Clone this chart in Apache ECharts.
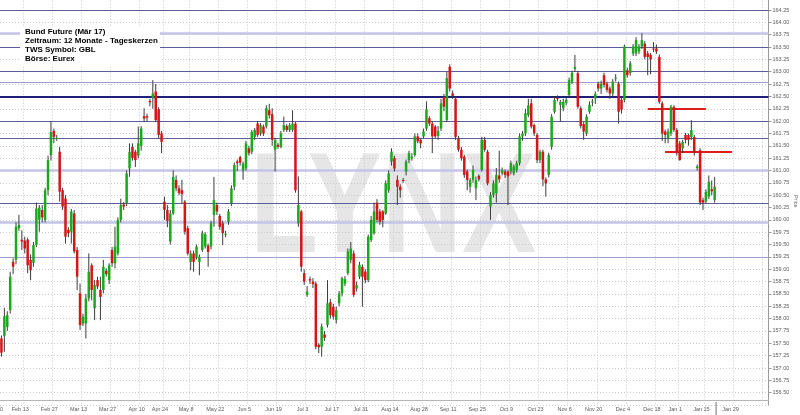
<!DOCTYPE html>
<html><head><meta charset="utf-8">
<script src="https://cdn.jsdelivr.net/npm/echarts@6/dist/echarts.min.js"></script>
<style>html,body{margin:0;padding:0;background:#fff}#c{width:800px;height:415px}</style>
</head><body><div id="c"></div>
<script>
// ---- categories (trading days) ----
const firstDay = '2017-02-01';
const lastDay = '2018-02-13';
const holidays = ['2017-04-14','2017-04-17','2017-05-01','2017-12-25','2017-12-26','2018-01-01'];

// ---- x tick dates and their labels ----
const tickDates = ['2017-02-13','2017-02-27','2017-03-13','2017-03-27','2017-04-10','2017-04-24','2017-05-08','2017-05-22','2017-06-05','2017-06-19','2017-07-03','2017-07-17','2017-07-31','2017-08-14','2017-08-28','2017-09-11','2017-09-25','2017-10-09','2017-10-23','2017-11-06','2017-11-20','2017-12-04','2017-12-18','2018-01-02','2018-01-15','2018-01-29','2018-02-12'];
const tickLabels = ['Feb 13','Feb 27','Mar 13','Mar 27','Apr 10','Apr 24','May 8','May 22','Jun 5','Jun 19','Jul 3','Jul 17','Jul 31','Aug 14','Aug 28','Sep 11','Sep 25','Oct 9','Oct 23','Nov 6','Nov 20','Dec 4','Dec 18','Jan 1','Jan 15','Jan 29',''];

// ---- y axis ----
const yMin = 156.25, yMax = 164.5, yStep = 0.25;

// ---- daily candles ----
const opens = [157.60,157.65,157.83,158.17,159.15,159.19,159.83,159.60,159.58,159.60,
159.19,159.13,159.49,160.00,160.20,160.00,160.60,161.31,161.80,161.64,
161.38,160.60,160.43,159.80,159.76,160.13,159.39,158.51,157.90,157.90,
158.41,159.08,158.21,158.78,158.58,158.58,158.97,158.78,159.39,159.12,
159.32,160.00,160.31,160.33,161.04,161.48,161.38,161.30,161.50,162.10,
162.10,162.41,162.46,162.60,162.24,161.75,160.37,160.20,159.56,160.13,
160.81,160.64,160.60,160.37,159.83,159.15,159.32,159.25,159.15,159.39,
159.46,159.48,159.46,160.10,160.30,160.08,159.93,159.70,159.96,160.33,
160.67,161.18,161.27,161.00,161.04,161.45,161.38,161.68,161.95,161.75,
161.89,161.89,162.22,162.14,161.42,161.52,161.48,161.82,161.90,161.82,
161.82,161.95,159.93,160.17,158.92,158.48,158.80,158.75,158.71,157.47,
157.43,157.68,157.87,158.33,158.24,157.97,158.31,158.51,158.71,158.92,
159.19,159.32,158.61,158.85,159.05,158.95,158.78,159.59,159.73,160.35,
160.17,160.17,160.13,160.60,161.18,161.25,160.81,160.67,160.81,160.98,
161.21,161.25,161.31,161.69,161.62,161.69,161.85,162.06,161.95,161.89,
161.70,161.85,162.49,162.02,163.10,162.56,162.45,161.65,161.42,161.28,
160.98,160.67,160.81,160.64,160.89,161.01,161.62,161.38,160.27,160.50,
160.54,160.90,160.94,160.98,160.98,160.98,160.94,161.01,161.15,161.69,
161.75,162.12,162.36,161.92,161.72,161.21,161.38,160.82,160.91,161.48,
162.19,162.47,162.33,162.26,162.37,162.53,162.80,163.05,162.97,162.26,
161.94,161.75,162.19,162.38,162.46,162.76,162.66,162.93,162.76,162.66,
162.56,162.86,162.76,162.43,162.43,163.03,162.97,163.37,163.37,163.41,
163.51,163.57,163.37,163.34,163.47,163.47,163.30,162.36,161.79,161.65,
161.75,162.29,161.82,161.55,161.45,161.72,161.72,161.68,161.68,161.05,
161.41,160.40,160.37,160.47,160.62,160.40];
const closes = [157.31,158.05,158.07,158.85,159.05,159.86,159.90,159.56,159.42,159.08,
158.98,159.49,160.23,160.25,160.05,160.60,161.21,161.78,161.68,161.66,
160.57,160.27,159.66,159.73,160.17,159.36,158.85,157.87,158.04,158.41,
158.95,158.58,158.68,158.65,158.44,159.05,158.90,159.08,159.12,159.46,
160.00,160.30,160.27,160.94,161.38,161.25,161.21,161.55,161.85,162.05,
162.07,162.38,162.56,162.02,161.72,161.58,160.20,159.98,160.13,160.87,
160.64,160.54,160.52,159.76,159.32,159.32,159.15,159.46,159.25,159.73,
159.71,159.35,159.93,160.40,160.17,159.86,159.73,159.72,160.17,160.64,
161.11,161.15,161.16,161.14,161.55,161.35,161.78,161.82,161.72,161.92,
161.75,162.26,162.12,161.62,161.62,161.48,161.75,161.92,161.82,161.92,
161.95,160.60,160.30,159.05,158.75,158.55,158.77,158.70,157.43,157.42,
157.84,157.61,158.31,158.07,158.04,158.17,158.51,158.82,158.80,159.36,
159.42,158.48,158.68,159.09,158.85,158.78,159.66,160.00,160.17,160.00,
159.96,160.00,160.74,160.94,161.38,161.04,160.67,160.60,160.79,161.18,
161.35,161.28,161.69,161.59,161.55,161.79,162.24,161.95,161.69,161.69,
161.80,162.36,162.29,162.87,162.66,162.51,161.68,161.42,161.25,160.91,
160.81,160.81,161.01,160.81,160.82,161.62,161.42,160.74,160.50,160.74,
160.91,160.82,161.01,160.91,160.88,161.15,161.08,161.15,161.69,161.75,
162.16,162.32,161.89,161.75,161.21,161.38,160.82,160.74,161.31,162.09,
162.43,162.45,162.39,162.39,162.43,162.83,162.98,163.10,162.29,161.90,
161.79,162.09,162.33,162.40,162.55,162.66,162.76,162.73,162.63,162.56,
162.80,162.88,162.19,162.23,163.51,162.93,163.17,163.51,163.64,163.51,
163.64,163.30,163.30,163.25,163.45,163.41,162.39,161.75,161.72,161.79,
162.29,161.82,161.35,161.21,161.58,161.62,161.62,161.82,161.38,161.08,
160.35,160.35,160.57,160.77,160.58,160.67];
const highs = [157.66,158.22,158.15,158.95,159.22,159.95,160.10,159.79,159.66,159.64,
159.30,159.55,160.35,160.30,160.30,160.65,161.30,162.00,161.85,161.72,
161.48,160.65,160.50,159.85,160.22,160.20,159.45,158.71,158.10,158.50,
159.32,159.12,158.78,158.85,158.85,159.19,159.02,159.12,159.45,159.86,
160.05,160.43,160.36,161.00,161.55,161.55,161.42,161.89,161.90,162.26,
162.15,162.45,162.83,162.75,162.28,161.80,160.47,160.30,160.20,161.00,
160.90,160.70,160.81,160.40,159.88,159.38,159.38,159.50,159.30,159.78,
159.75,159.52,159.98,160.87,160.35,160.12,159.98,159.78,160.22,160.70,
161.16,161.22,161.30,161.18,161.60,161.50,161.82,161.86,162.00,161.96,
161.93,162.32,162.35,162.26,161.66,161.56,161.80,162.09,161.94,161.96,
162.22,161.98,160.88,160.20,159.00,158.66,158.85,158.82,158.75,157.50,
157.90,157.75,158.78,158.40,158.30,158.24,158.56,158.85,158.86,159.42,
159.55,159.38,158.75,159.15,159.10,159.00,159.70,160.08,160.35,160.42,
160.22,160.20,160.80,161.00,161.45,161.30,160.90,160.72,160.85,161.22,
161.40,161.35,161.75,161.75,161.65,161.85,162.40,162.10,162.00,161.92,
161.90,162.45,162.55,163.00,163.15,162.62,162.50,161.70,161.48,161.32,
161.02,160.85,161.10,160.88,160.92,161.68,161.68,161.42,160.56,160.80,
161.05,161.40,161.06,161.02,161.00,161.20,161.12,161.20,161.75,161.80,
162.25,162.45,162.45,161.95,161.76,161.42,161.42,160.86,161.36,162.14,
162.50,162.52,162.43,162.45,162.48,162.88,163.02,163.34,163.02,162.30,
161.98,162.14,162.40,162.45,162.60,162.80,162.82,162.98,162.80,162.70,
162.85,162.95,162.80,162.48,163.55,163.08,163.22,163.56,163.70,163.56,
163.78,163.62,163.42,163.38,163.60,163.55,163.35,162.40,161.83,161.85,
162.33,162.32,161.86,161.60,161.62,161.76,161.75,162.02,161.72,161.12,
161.45,160.45,160.62,160.90,160.80,160.87];
const lows = [157.23,157.33,157.75,158.10,158.90,159.10,159.78,159.39,159.32,158.92,
158.78,159.05,159.45,159.76,159.95,159.95,160.50,161.20,161.55,161.60,
160.37,160.20,159.52,159.65,159.52,159.32,158.58,157.77,157.85,157.60,
158.35,158.37,157.97,158.60,157.97,158.51,158.85,158.70,159.05,159.02,
159.28,159.95,160.20,160.28,160.87,161.20,161.07,161.25,161.40,161.98,
162.00,162.30,162.25,161.98,161.65,161.35,160.00,159.85,159.50,160.10,
160.58,160.50,160.33,159.70,159.28,158.98,158.95,159.20,158.88,159.35,
159.42,159.05,159.40,159.86,160.10,159.80,159.49,159.65,159.90,160.28,
160.60,160.99,161.10,160.81,161.00,161.30,161.33,161.62,161.68,161.70,
161.70,161.85,162.05,161.50,160.98,161.44,161.45,161.78,161.78,161.78,
161.78,160.55,159.86,158.95,158.68,158.44,158.70,158.62,157.38,157.30,
157.23,157.55,157.82,158.00,157.98,157.90,158.25,158.45,158.66,158.88,
159.12,158.44,158.55,158.80,158.24,158.72,158.74,159.55,159.70,159.95,
159.90,159.85,160.10,160.55,161.10,160.98,160.30,160.45,160.75,160.90,
161.15,161.20,161.28,161.55,161.45,161.65,161.80,161.90,161.35,161.65,
161.62,161.80,162.20,161.98,162.60,162.45,161.62,161.38,161.20,160.85,
160.60,160.55,160.75,160.40,160.78,160.98,161.38,160.70,160.00,160.45,
160.35,160.75,160.90,160.85,160.30,160.92,160.90,160.96,161.10,161.60,
161.70,162.08,161.85,161.70,161.15,161.15,160.68,160.47,160.86,161.42,
162.15,162.40,161.99,162.20,162.32,162.48,162.75,163.00,162.25,161.85,
161.62,161.70,162.15,162.30,162.35,162.60,162.55,162.68,162.58,162.45,
162.50,162.80,161.95,162.15,162.38,162.88,162.92,163.32,163.32,163.36,
163.46,163.25,162.93,162.95,163.40,163.36,162.35,161.60,161.55,161.55,
161.70,161.78,161.30,161.20,161.35,161.55,161.50,161.62,161.30,161.00,
160.30,160.20,160.33,160.42,160.50,160.35];

// ---- drawn levels ----
const levels = [164.25,163.77,163.50,163.00,162.79,162.50,162.00,161.65,161.00,160.33,159.95,159.25];
const levelKinds = ['dark','light','dark','dark','soft','navy','dark','dark','light','dark','light','soft'];
const redSegmentFrom = ['2017-12-13','2017-12-21'];
const redSegmentTo = ['2018-01-15','2018-01-26'];
const redSegmentValue = [162.25, 161.38];

const infoLines = ['Bund Future (Mär 17)','Zeitraum: 12 Monate - Tageskerzen','TWS Symbol: GBL','Börse: Eurex'];

// ---- build ----
function tradingDays(from, to, skip) {
  const out = [];
  const d = new Date(from + 'T00:00:00Z');
  const end = new Date(to + 'T00:00:00Z');
  while (d <= end) {
    const s = d.toISOString().slice(0, 10);
    const wd = d.getUTCDay();
    if (wd !== 0 && wd !== 6 && skip.indexOf(s) < 0) out.push(s);
    d.setUTCDate(d.getUTCDate() + 1);
  }
  return out;
}
const categories = tradingDays(firstDay, lastDay, holidays);
const tickSet = new Set(tickDates);
const labelMap = {};
tickDates.forEach((d, k) => { labelMap[d] = tickLabels[k]; });
const candleData = opens.map((o, i) => [i, o, closes[i], lows[i], highs[i]]);

const levelStyle = {
  dark: {color: '#5d5d9d', width: 1.2},
  light: {color: '#c4c4e8', width: 2.6},
  soft: {color: '#9d9dcf', width: 1.2},
  navy: {color: '#1f1f78', width: 2.2}
};
const markData = levels.map((v, k) => ({yAxis: v, lineStyle: Object.assign({type: 'solid'}, levelStyle[levelKinds[k]])}));
redSegmentValue.forEach((v, k) => {
  markData.push([{coord: [redSegmentFrom[k], v], lineStyle: {color: '#dc1e1e', width: 1.8, type: 'solid'}}, {coord: [redSegmentTo[k], v]}]);
});

function renderCandle(params, api) {
  const i = api.value(0);
  const o = api.value(1), c = api.value(2), lo = api.value(3), hi = api.value(4);
  const pH = api.coord([i, hi]);
  const pL = api.coord([i, lo]);
  const pO = api.coord([i, o]);
  const pC = api.coord([i, c]);
  const w = api.size([1, 0])[0] * 0.86;
  const up = c >= o;
  const yTop = Math.min(pO[1], pC[1]);
  const h = Math.max(Math.abs(pO[1] - pC[1]), 1);
  return {
    type: 'group',
    children: [
      {type: 'line', shape: {x1: pH[0], y1: pH[1], x2: pL[0], y2: pL[1]}, style: {stroke: '#3c3c3c', lineWidth: 1}},
      {type: 'rect', shape: {x: pH[0] - w / 2, y: yTop, width: w, height: h}, style: {fill: up ? '#1ca81c' : '#d41616'}}
    ]
  };
}

const dotted = {color: '#c9c9c9', width: 1, type: [1, 2]};
const chart = echarts.init(document.getElementById('c'), null, {renderer: 'canvas'});
const baseGraphic = [
  {id: 'wm', type: 'text', z: -1, x: 250, y: 141.4, scaleX: 0.777,
   style: {text: 'LYNX', font: 'bold 143px "Liberation Sans"', fill: '#e6e6e6', verticalAlign: 'top'}},
  {id: 'box', type: 'rect', z: 10, shape: {x: 20, y: 27, width: 140, height: 38}, style: {fill: '#ffffff'}},
  {id: 'info', type: 'text', z: 11, x: 25, y: 26.7,
   style: {text: infoLines.join('\n'), font: 'bold 8px "Liberation Sans"', lineHeight: 9.2, fill: '#000000', verticalAlign: 'top'}},
  {id: 'jan30', type: 'text', z: 11, x: 3, y: 406,
   style: {text: 'Jan 30', font: '5.5px "Liberation Sans"', fill: '#5a5a5a', align: 'right', verticalAlign: 'top'}}
];
chart.setOption({
  animation: false,
  backgroundColor: '#ffffff',
  grid: {left: 0, right: 31.5, top: -2.35, bottom: 9.95, containLabel: false, outerBoundsMode: 'none'},
  xAxis: {
    type: 'category',
    data: categories,
    boundaryGap: true,
    offset: -5,
    axisLine: {show: true, lineStyle: {color: '#b5b5b5'}},
    axisTick: {show: false},
    axisLabel: {
      interval: (idx, val) => tickSet.has(val),
      formatter: (val) => labelMap[val] || '',
      fontSize: 5.5, color: '#5a5a5a', margin: 6, padding: [0, 9, 0, 0],
      fontFamily: 'Liberation Sans'
    },
    splitLine: {show: true, interval: (idx, val) => tickSet.has(val), lineStyle: dotted}
  },
  yAxis: {
    type: 'value',
    position: 'right',
    min: yMin, max: yMax, interval: yStep,
    name: 'Price', nameLocation: 'middle', nameRotate: -90, nameGap: 24, nameMoveOverlap: false,
    nameTextStyle: {fontSize: 5.5, color: '#5a5a5a', fontFamily: 'Liberation Sans'},
    axisLine: {show: true, lineStyle: {color: '#9a9a9a'}},
    axisTick: {show: true, length: 3, lineStyle: {color: '#9a9a9a'}},
    axisLabel: {
      formatter: (v) => v.toFixed(2), fontSize: 5.5, color: '#5a5a5a', margin: 4,
      showMinLabel: false, showMaxLabel: false, fontFamily: 'Liberation Sans'
    },
    splitLine: {show: true, lineStyle: dotted}
  },
  series: [{
    type: 'custom',
    name: 'GBL',
    renderItem: renderCandle,
    encode: {x: 0, y: [1, 2, 3, 4]},
    data: candleData,
    z: 3,
    clip: true,
    markLine: {
      silent: true, symbol: ['none', 'none'], label: {show: false}, z: 1, animation: false,
      data: markData
    }
  }],
  graphic: baseGraphic
});
// small end-of-data marker under the axis, placed through the axis scale
const lastIdx = opens.length - 1;
const band = chart.convertToPixel({xAxisIndex: 0}, 1) - chart.convertToPixel({xAxisIndex: 0}, 0);
const markX = chart.convertToPixel({xAxisIndex: 0}, lastIdx) + band / 2;
chart.setOption({graphic: baseGraphic.concat([
  {id: 'endmark', type: 'line', z: 11, shape: {x1: markX, y1: 402, x2: markX, y2: 415}, style: {stroke: '#707070', lineWidth: 1}}
])});
</script>
</body></html>
